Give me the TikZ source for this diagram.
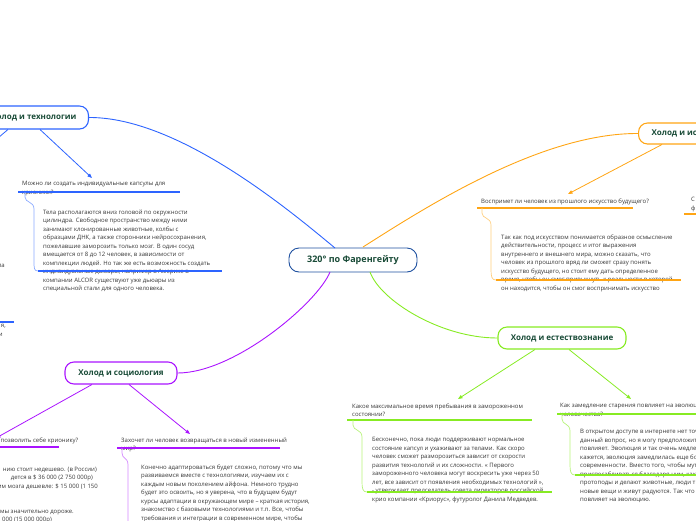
\documentclass[tikz,border=0pt]{standalone}
\usepackage{fontspec}
\setmainfont{Open Sans}
\usetikzlibrary{arrows.meta,calc}
\definecolor{cblue}{RGB}{45,100,255}
\definecolor{corange}{RGB}{255,165,20}
\definecolor{cgreen}{RGB}{135,235,35}
\definecolor{cpurple}{RGB}{170,20,255}
\definecolor{ttl}{RGB}{25,75,55}
\definecolor{txt}{RGB}{55,55,55}
\definecolor{cdark}{RGB}{30,80,160}
\begin{document}
\begin{tikzpicture}[x=1pt,y=-1pt,
  topic/.style={draw, rounded corners=9pt, line width=1.1pt, fill=white, text=ttl,
    font=\bfseries\fontsize{8}{10}\selectfont, minimum height=22pt, inner xsep=12pt, inner ysep=0pt},
  central/.style={topic, draw=cdark, line width=0.9pt, font=\bfseries\fontsize{9}{11}\selectfont,
    minimum width=128pt, minimum height=24pt, rounded corners=10pt},
  body/.style={anchor=north west, align=left, inner sep=0pt, text=txt, font=\fontsize{6}{8.5}\selectfont},
  frag/.style={anchor=base east, inner sep=0pt, text=txt, font=\fontsize{6}{8.5}\selectfont},
  conn/.style={line width=0.9pt},
  arr/.style={line width=0.8pt, -{Triangle[length=4.5pt,width=3.5pt]}},
  uline/.style={line width=1.4pt},
  br/.style={line width=0.7pt},
]
\useasboundingbox (0,0) rectangle (696,520);
\clip (0,0) rectangle (696,520);

% ---------- topic nodes ----------
\node[central] (c) at (353,260) {320° по Фаренгейту};
\node[topic, draw=cblue, anchor=east, minimum height=23pt] (tech) at (89,117.5) {Холод и технологии};
\node[topic, draw=corange, anchor=west, minimum height=21pt, inner xsep=13pt] (art) at (638,133.5) {Холод и искусство};
\node[topic, draw=cpurple, minimum width=112pt] (soc) at (121,373) {Холод и социология};
\node[topic, draw=cgreen, minimum width=128pt] (nat) at (562,338) {Холод и естествознание};

% ---------- connectors from centre ----------
\coordinate (cb) at (335,248);
\coordinate (co) at (363,247);
\coordinate (cp) at (330,272);
\coordinate (cg) at (370,272);
\draw[conn, cblue] (cb) .. controls (295,215) and (180,117) .. (tech.east);
\draw[conn, corange] (co) .. controls (423,209) and (540,133) .. (art.west);
\draw[conn, cpurple] (cp) .. controls (318,302) and (235,373) .. (soc.east);
\draw[conn, cgreen] (cg) .. controls (380,300) and (440,338) .. (nat.west);

% ---------- Technology branch ----------
\coordinate (t1) at (40,129.5);
\coordinate (t1e) at (92,178);
\coordinate (t2) at (8,129.5);
\coordinate (t2e) at (-8,143);
\draw[arr, cblue] (t1) -- (t1e);
\draw[arr, cblue] (t2) -- (t2e);
\node[body] (tq) at (22,181.5) {Можно ли создать индивидуальные капсулы для\\крионики?};
\coordinate (tqa) at (18,192); \coordinate (tqb) at (180,192);
\draw[uline, cblue] (tqa) -- (tqb);
\coordinate (tbs) at (25,192);
\coordinate (taa) at (38,271); \coordinate (tab) at (222,271);
\draw[br, cblue!55] let \p1=(tbs), \p2=(taa) in (tbs) -- (\x1,\y1-5pt)
  .. controls (\x1,\y1-11pt) and (\x1+9pt,\y1-9pt) .. (\x1+9pt,\y1-17pt)
  -- (\x1+9pt,\y2+10pt) .. controls (\x1+9pt,\y2+3pt) and (\x2-4pt,\y2) .. (taa);
\node[body] (ta) at (43,209.5) {Тела располагаются вниз головой по окружности\\
цилиндра. Свободное пространство между ними\\
занимают клонированные животные, колбы с\\
образцами ДНК, а также сторонники нейросохранения,\\
пожелавшие заморозить только мозг. В один сосуд\\
вмещается от 8 до 12 человек, в зависимости от\\
комплекции людей. Но так же есть возможность создать\\
индивидуальные дьюары, например в Америке в\\
компании ALCOR существуют уже дьюары из\\
специальной стали для одного человека.};
\draw[uline, cblue] (taa) -- (tab);

% fragments of an off-picture branch on the left
\node[frag] (fl1) at (5,267) {ла};
\coordinate (fla) at (-5,322); \coordinate (flb) at (14,322);
\draw[uline, cblue] (fla) -- (flb);
\node[frag] (fl2) at (6,327.5) {я,};
\node[frag] (fl3) at (3,336) {и};

% ---------- Art branch ----------
\coordinate (a1) at (662,144.5);
\coordinate (a1e) at (568,194);
\draw[arr, corange] (a1) -- (a1e);
\node[body] (aq) at (481,198.5) {Воспримет ли человек из прошлого искусство будущего?};
\coordinate (aqa) at (477,208); \coordinate (aqb) at (633,208);
\draw[uline, corange] (aqa) -- (aqb);
\coordinate (abs) at (482,208);
\coordinate (aaa) at (496,280); \coordinate (aab) at (681,280);
\draw[br, corange!55] let \p1=(abs), \p2=(aaa) in (abs) -- (\x1,\y1-5pt)
  .. controls (\x1,\y1-11pt) and (\x1+9pt,\y1-9pt) .. (\x1+9pt,\y1-17pt)
  -- (\x1+9pt,\y2+10pt) .. controls (\x1+9pt,\y2+3pt) and (\x2-4pt,\y2) .. (aaa);
\node[body] (aa) at (501,234.5) {Так как под искусством понимается образное осмысление\\
действительности, процесс и итог выражения\\
внутреннего и внешнего мира, можно сказать, что\\
человек из прошлого вряд ли сможет сразу понять\\
искусство будущего, но стоит ему дать определенное\\
время, чтобы он смог привыкнуть к реальности в которой\\
он находится, чтобы он смог воспринимать искусство};
\draw[uline, corange] (aaa) -- (aab);
\node[body] (aq2) at (691,197) {С\\ф};
\coordinate (a2a) at (684,214); \coordinate (a2b) at (700,214);
\draw[uline, corange] (a2a) -- (a2b);

% ---------- Sociology branch ----------
\coordinate (s1) at (92,384.5);
\coordinate (s1e) at (-4,438);
\coordinate (s2) at (129,384.5);
\coordinate (s2e) at (190,434);
\draw[arr, cpurple] (s1) -- (s1e);
\draw[arr, cpurple] (s2) -- (s2e);
\node[frag] (sq1) at (78.5,442) {позволить себе крионику?};
\coordinate (s1a) at (-5,447); \coordinate (s1b) at (59,447);
\draw[uline, cpurple] (s1a) -- (s1b);
\node[frag] (sl1) at (97,471) {нию стоит недешево. (в России)};
\node[frag] (sl2) at (93,479.5) {дется в \$ 36 000 (2 750 000р)};
\node[frag] (sl3) at (98,488) {им мозга дешевле: \$ 15 000 (1 150};
\node[frag] (sl4) at (74,513) {мы значительно дороже.};
\node[frag] (sl5) at (52,521.5) {000 (15 000 000р)};

\node[body] (sq2) at (121,437.5) {Захочет ли человек возвращаться в новый измененный\\мир?};
\coordinate (s2a) at (117,448); \coordinate (s2b) at (280,448);
\draw[uline, cpurple] (s2a) -- (s2b);
\coordinate (sbs) at (122,448);
\coordinate (sbe) at (132,540);
\draw[br, cpurple!50] let \p1=(sbs), \p2=(sbe) in (sbs) -- (\x1,\y1-5pt)
  .. controls (\x1,\y1-11pt) and (\x1+6pt,\y1-9pt) .. (\x1+6pt,\y1-17pt)
  -- (\x1+6pt,\y2+10pt) .. controls (\x1+6pt,\y2+3pt) and (\x2-4pt,\y2) .. (sbe);
\node[body] (sa2) at (141,464.5) {Конечно адаптироваться будет сложно, потому что мы\\
развиваемся вместе с технологиями, изучаем их с\\
каждым новым поколением айфона. Немного трудно\\
будет это освоить, но я уверена, что в будущем будут\\
курсы адаптации в окружающем мире – краткая история,\\
знакомство с базовыми технологиями и т.п. Все, чтобы\\
требования и интеграции в современном мире, чтобы};

% ---------- Natural science branch ----------
\coordinate (n1) at (535,349.5);
\coordinate (n1e) at (458,399);
\coordinate (n2) at (569,349.5);
\coordinate (n2e) at (631,399);
\draw[arr, cgreen] (n1) -- (n1e);
\draw[arr, cgreen] (n2) -- (n2e);
\node[body] (nq1) at (352,403.5) {Какое максимальное время пребывания в замороженном\\состоянии?};
\coordinate (n1a) at (347,420); \coordinate (n1b) at (532,420);
\draw[uline, cgreen] (n1a) -- (n1b);
\coordinate (nbs) at (353,420);
\coordinate (naa) at (367,492); \coordinate (nab) at (552,492);
\draw[br, cgreen!60] let \p1=(nbs), \p2=(naa) in (nbs) -- (\x1,\y1-5pt)
  .. controls (\x1,\y1-11pt) and (\x1+9pt,\y1-9pt) .. (\x1+9pt,\y1-17pt)
  -- (\x1+9pt,\y2+10pt) .. controls (\x1+9pt,\y2+3pt) and (\x2-4pt,\y2) .. (naa);
\node[body] (na1) at (372,437.5) {Бесконечно, пока люди поддерживают нормальное\\
состояние капсул и ухаживают за телами. Как скоро\\
человек сможет разморозиться зависит от скорости\\
развития технологий и их сложности. « Первого\\
замороженного человека могут воскресить уже через 50\\
лет, все зависит от появления необходимых технологий »,\\
- утверждает председатель совета директоров российской\\
крио компании «Криорус», футуролог Данила Медведев.};
\draw[uline, cgreen] (naa) -- (nab);

\node[body] (nq2) at (560,403.5) {Как замедление старения повлияет на эволюцию\\человечества?};
\coordinate (n2a) at (557,414); \coordinate (n2b) at (700,414);
\draw[uline, cgreen] (n2a) -- (n2b);
\coordinate (nbs2) at (562,414);
\coordinate (nba) at (575,475); \coordinate (nbb) at (700,475);
\draw[br, cgreen!60] let \p1=(nbs2), \p2=(nba) in (nbs2) -- (\x1,\y1-5pt)
  .. controls (\x1,\y1-11pt) and (\x1+8pt,\y1-9pt) .. (\x1+8pt,\y1-17pt)
  -- (\x1+8pt,\y2+10pt) .. controls (\x1+8pt,\y2+3pt) and (\x2-4pt,\y2) .. (nba);
\node[body] (na2) at (580,429.5) {В открытом доступе в интернете нет точного ответа на\\
данный вопрос, но я могу предположить, что это никак не\\
повлияет. Эволюция и так очень медленная, а как мне\\
кажется, эволюция замедлилась еще больше в\\
современности. Вместо того, чтобы мутировать и\\
приспосабливаться благодаря ним, как это делали\\
протоподы и делают животные, люди творят\\
новые вещи и живут радуются. Так что это никак не\\
повлияет на эволюцию.};
\draw[uline, cgreen] (nba) -- (nbb);
\end{tikzpicture}
\end{document}
